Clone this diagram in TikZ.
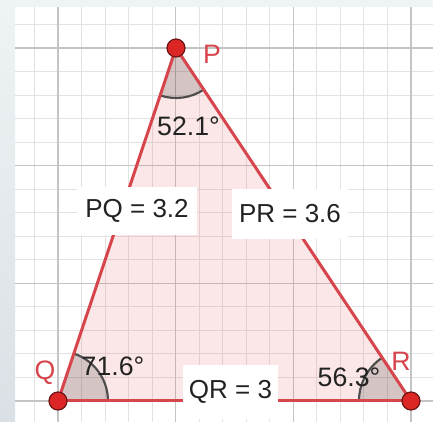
\documentclass[tikz,border=0pt]{standalone}
\usepackage{fontspec}
\setmainfont{Liberation Sans}
\definecolor{tri}{RGB}{214,69,76}
\definecolor{trifill}{RGB}{229,77,77}
\definecolor{dotred}{RGB}{220,38,38}
\definecolor{dotdark}{RGB}{110,20,20}
\definecolor{arcgray}{RGB}{77,77,77}
\definecolor{minorgrid}{RGB}{226,226,226}
\definecolor{majorgrid}{RGB}{196,196,196}
\definecolor{txt}{RGB}{34,34,34}
\definecolor{bgtop}{RGB}{238,243,245}
\definecolor{bgbot}{RGB}{218,224,229}
\begin{document}
\begin{tikzpicture}[x=0.75pt,y=0.75pt,
  edge/.style={draw=tri, line width=2.25pt, line cap=round},
  vtx/.style={circle, fill=dotred, draw=dotdark, line width=0.9pt, minimum size=13.5pt, inner sep=0pt},
  lenbox/.style={fill=white, inner sep=0pt, font=\fontsize{19.5}{22}\selectfont, text=txt},
  anglab/.style={font=\fontsize{20}{22}\selectfont, text=txt, inner sep=0pt},
  vlab/.style={font=\fontsize{20}{22}\selectfont, text=tri, inner sep=0pt},
  arcline/.style={draw=arcgray, line width=1.6pt},
  sector/.style={fill=black, fill opacity=0.15},
  minor/.style={draw=minorgrid, line width=0.8pt},
  major/.style={draw=majorgrid, line width=1.1pt}]
\useasboundingbox (0,0) rectangle (433,422);
\fill[white] (0,0) rectangle (433,422);
\shade[top color=bgtop, bottom color=bgbot] (0,0) rectangle (15,422);
\fill[bgtop] (15,415) rectangle (433,422);
\begin{scope}
  \clip (15,0) rectangle (433,415);
  \foreach \k in {-1,...,16} \draw[minor] ({58+\k*23.5333},0) -- ++(0,415);
  \foreach \k in {-1,...,17} \draw[minor] (15,{21+\k*23.5333}) -- ++(418,0);
  \foreach \k in {0,...,3} {
    \draw[major] ({58+\k*117.667},0) -- ++(0,415);
    \draw[major] (15,{21+\k*117.667}) -- ++(418,0);
  }
\end{scope}
\coordinate (Q) at (58,21);
\coordinate (R) at (411,21);
\coordinate (P) at (176,374);
% triangle interior
\fill[trifill, fill opacity=0.13] (Q) -- (R) -- (P) -- cycle;
% angle sectors
\fill[sector] (P) -- ++(251.565:50) arc[start angle=251.565, end angle=303.690, radius=50] -- cycle;
\draw[arcline] (P) ++(251.565:50) arc[start angle=251.565, end angle=303.690, radius=50];
\fill[sector] (Q) -- ++(0:50) arc[start angle=0, end angle=71.565, radius=50] -- cycle;
\draw[arcline] (Q) ++(0:50) arc[start angle=0, end angle=71.565, radius=50];
\fill[sector] (R) -- ++(123.690:52) arc[start angle=123.690, end angle=180, radius=52] -- cycle;
\draw[arcline] (R) ++(123.690:52) arc[start angle=123.690, end angle=180, radius=52];
% edges
\draw[edge] (Q) -- (R);
\draw[edge] (R) -- (P);
\draw[edge] (P) -- (Q);
% length labels
\node[lenbox, minimum width=90pt, minimum height=36pt] (PQlab) at (137,211) {PQ = 3.2};
\node[lenbox, minimum width=87pt, minimum height=37.5pt] (PRlab) at (290,208) {PR = 3.6};
\node[lenbox, minimum width=71.25pt, minimum height=40.5pt] (QRlab) at (230.5,30) {QR = 3};
% angle labels
\node[anglab] (angP) at (188.5,296) {52.1°};
\node[anglab] (angQ) at (113,56) {71.6°};
\node[anglab] (angR) at (349,45) {56.3°};
% vertices
\node[vtx] (Pdot) at (P) {};
\node[vtx] (Qdot) at (Q) {};
\node[vtx] (Rdot) at (R) {};
\node[vlab] (Plab) at (212,368) {P};
\node[vlab] (Qlab) at (45,49) {Q};
\node[vlab] (Rlab) at (401,61) {R};
\end{tikzpicture}
\end{document}
